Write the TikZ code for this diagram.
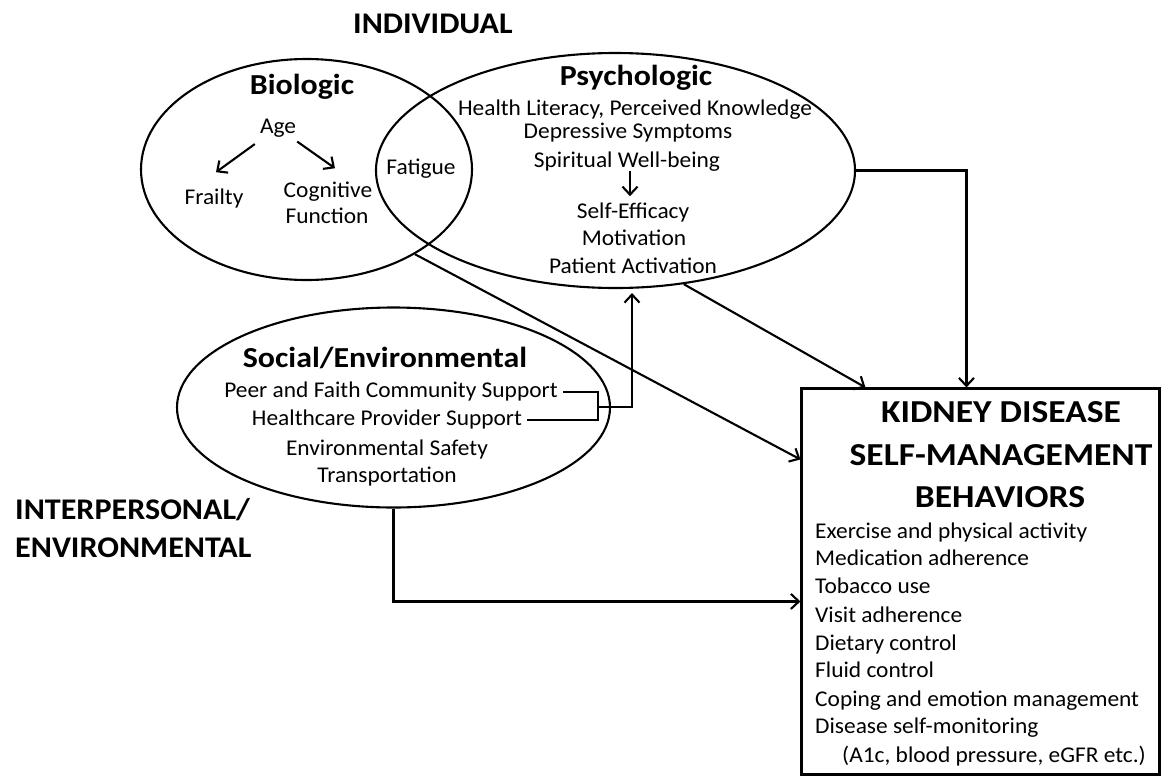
\documentclass[tikz,border=0pt]{standalone}
\usepackage{fontspec}
\setmainfont{Carlito}
\newfontfamily\txf[FakeStretch=1.04]{Carlito}
\newfontfamily\hdf[FakeStretch=1.10]{Carlito}
\newfontfamily\lbf[FakeStretch=1.07]{Carlito}
\newfontfamily\kdf[FakeStretch=1.11]{Carlito}
\usetikzlibrary{arrows.meta,shapes.geometric}
\begin{document}
\begin{tikzpicture}[x=1pt,y=-1pt,
  ov/.style={draw,ellipse,line width=2.1pt,inner sep=0pt},
  tx/.style={inner sep=0pt,anchor=base,font=\txf\fontsize{22.5}{27}\selectfont},
  txl/.style={tx,anchor=base west},
  hd/.style={inner sep=0pt,anchor=base,font=\hdf\fontsize{29}{34}\selectfont\bfseries},
  lbl/.style={inner sep=0pt,anchor=base west,font=\lbf\fontsize{30}{36}\selectfont\bfseries},
  kd/.style={inner sep=0pt,anchor=base,font=\kdf\fontsize{32}{38}\selectfont\bfseries},
  con/.style={line width=2.1pt},
  arr/.style={con,-{Straight Barb[length=8pt,width=15pt,line width=2.1pt]}}
]
\useasboundingbox (0,0) rectangle (1163,777);
\fill[white] (0,0) rectangle (1163,777);

% shapes
\node[ov,minimum width=331pt,minimum height=221pt] (bio) at (306.5,169.5) {};
\node[ov,minimum width=479pt,minimum height=235pt] (psy) at (615.5,170.5) {};
\node[ov,minimum width=433pt,minimum height=200pt] (soc) at (393.5,407.5) {};
\node[draw,line width=2.1pt,minimum width=358pt,minimum height=386pt,inner sep=0pt] (box) at (980.5,581.5) {};

% level labels
\node[lbl] (indiv) at (353,33) {INDIVIDUAL};
\node[lbl] (inter) at (15,519) {INTERPERSONAL/};
\node[lbl] (envl) at (15,557) {ENVIRONMENTAL};

% biologic
\node[hd] (bioT) at (302,94) {Biologic};
\node[tx] (age) at (278,133) {Age};
\node[tx] (frail) at (214,204) {Frailty};
\node[tx] (cog) at (328,197) {Cognitive};
\node[tx] (func) at (327,223) {Function};
\node[tx] (fat) at (421,174) {Fatigue};
\draw[arr] ([xshift=-5pt,yshift=-7pt]age.south west) -- ([xshift=2pt,yshift=16pt]frail.north);
\draw[arr] ([xshift=1pt,yshift=-4.5pt]age.south east) -- ([xshift=7pt,yshift=13pt]cog.north);

% psychologic
\node[hd] (psyT) at (636,85) {Psychologic};
\node[tx] (hl) at (635,115) {Health Literacy, Perceived Knowledge};
\node[tx] (dep) at (628,138) {Depressive Symptoms};
\node[tx] (spi) at (627,167) {Spiritual Well-being};
\node[tx] (se) at (633,218) {Self-Efficacy};
\node[tx] (mot) at (634,245) {Motivation};
\node[tx] (pa) at (633,273) {Patient Activation};
\draw[arr] ([xshift=3pt]spi.south) -- ([xshift=-3pt,yshift=6pt]se.north);

% social
\node[hd] (socT) at (385,367) {Social/Environmental};
\node[tx] (peer) at (391,397) {Peer and Faith Community Support};
\node[tx] (hcp) at (387,425) {Healthcare Provider Support};
\node[tx] (env) at (387,455) {Environmental Safety};
\node[tx] (tra) at (387,482) {Transportation};

% box
\node[kd] (k1) at (1001,422) {KIDNEY DISEASE};
\node[kd] (k2) at (1001,465) {SELF-MANAGEMENT};
\node[kd] (k3) at (1000,507) {BEHAVIORS};
\node[txl] (b1) at (815,538) {Exercise and physical activity};
\node[txl] (b2) at (815,565) {Medication adherence};
\node[txl] (b3) at (815,593) {Tobacco use};
\node[txl] (b4) at (815,622) {Visit adherence};
\node[txl] (b5) at (815,650) {Dietary control};
\node[txl] (b6) at (815,677) {Fluid control};
\node[txl] (b7) at (815,706) {Coping and emotion management};
\node[txl] (b8) at (815,733) {Disease self-monitoring};
\node[txl] (b9) at (842,762) {(A1c, blood pressure, eGFR etc.)};

% connectors
\coordinate (bk) at (598,407);
\draw[con] ([xshift=5pt,yshift=5pt]peer.base east) -| (bk);
\draw[con] ([xshift=5pt,yshift=5pt]hcp.base east) -| (bk);
\draw[arr] (bk) -| ([xshift=16.5pt,yshift=-4pt]psy.south);
\draw[arr] (psy.east) -| ([xshift=166pt]box.north west);
\draw[arr] (psy.-59) -- ([xshift=65pt]box.north west);
\draw[arr] (bio.-38) -- ([yshift=-72pt]box.north west);
\draw[arr] (soc.south) |- ([yshift=-214pt]box.north west);
\end{tikzpicture}
\end{document}
